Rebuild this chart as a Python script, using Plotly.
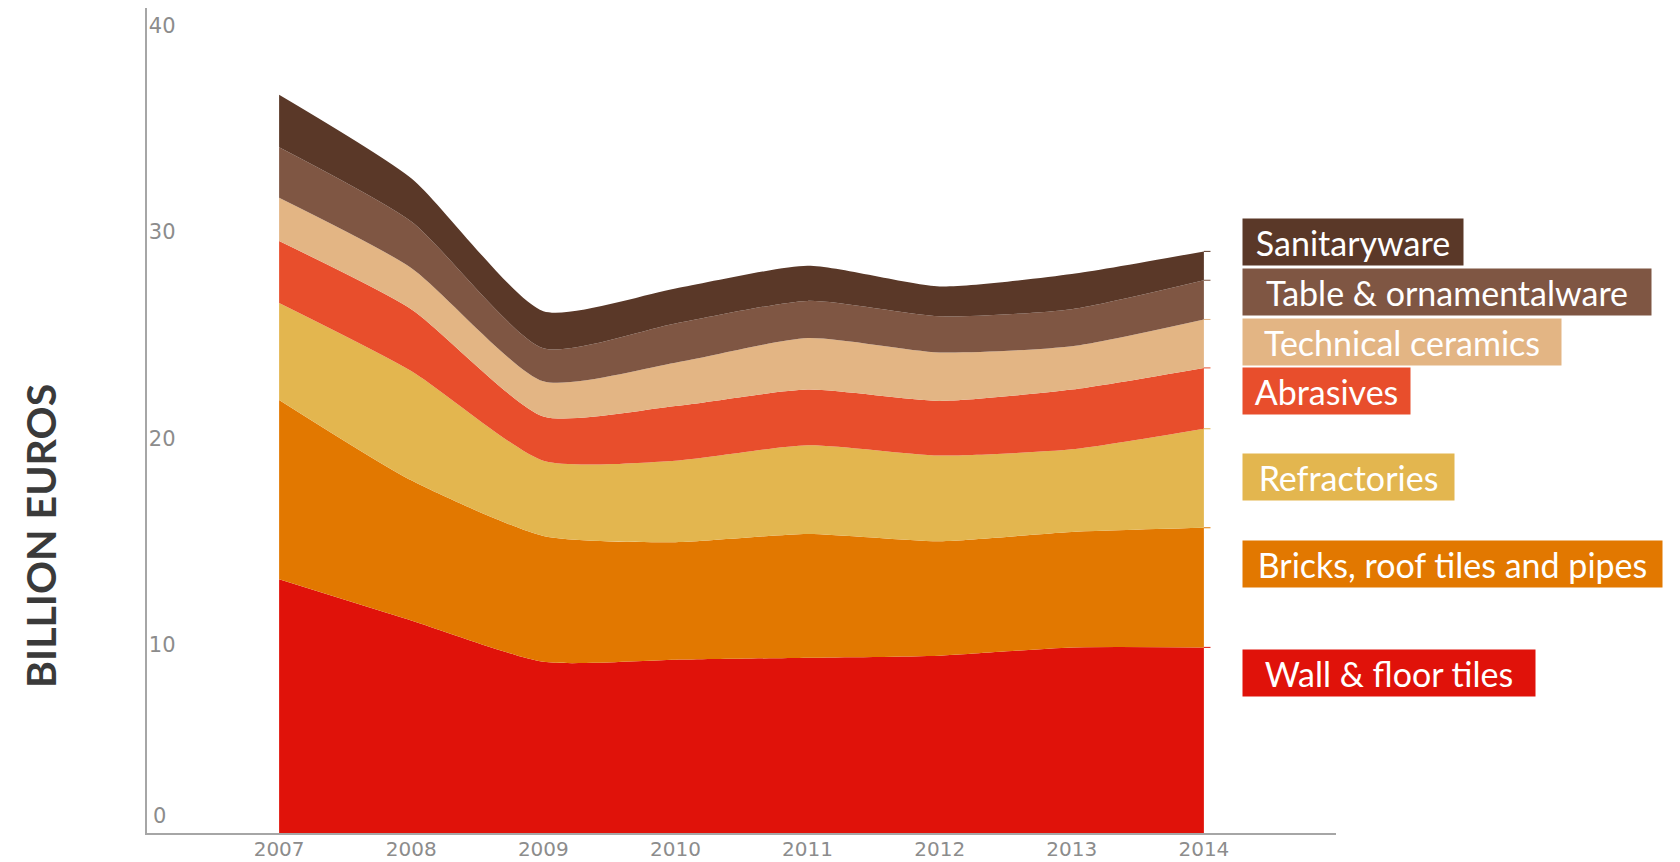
import numpy as np
import plotly.graph_objects as go

years = [2007, 2008, 2009, 2010, 2011, 2012, 2013, 2014]

# Layers from bottom to top (billion euros)
wall_floor = [12.3, 10.3, 8.3, 8.4, 8.5, 8.6, 9.0, 9.0]
bricks = [8.7, 6.8, 6.1, 5.7, 6.0, 5.55, 5.6, 5.8]
refractories = [4.7, 5.3, 3.65, 3.95, 4.3, 4.15, 4.0, 4.8]
abrasives = [3.0, 3.0, 2.15, 2.65, 2.7, 2.65, 2.9, 2.95]
technical = [2.1, 2.0, 1.7, 2.1, 2.5, 2.35, 2.1, 2.35]
table_orn = [2.45, 2.25, 1.6, 1.9, 1.8, 1.75, 1.8, 1.9]
sanitary = [2.55, 2.1, 1.8, 1.7, 1.7, 1.45, 1.7, 1.4]

names = ["Wall & floor tiles", "Bricks, roof tiles and pipes", "Refractories",
         "Abrasives", "Technical ceramics", "Table & ornamentalware", "Sanitaryware"]
series = [wall_floor, bricks, refractories, abrasives, technical, table_orn, sanitary]
colors = ["#E0120A", "#E27800", "#E3B64F", "#E84E2C", "#E3B584", "#7F5643", "#5A3828"]

y_ticks = [10, 20, 30, 40]

fig = go.Figure()
for name, vals, col in zip(names, series, colors):
    fig.add_trace(go.Scatter(
        x=years, y=vals, name=name, mode="lines", stackgroup="one",
        line=dict(width=0, shape="spline", smoothing=0.6, color=col),
        fillcolor=col, hoverinfo="x+y+name", showlegend=False,
    ))

# small leader ticks at the right edge of each layer boundary
cum = np.cumsum(np.array(series), axis=0)
for i, col in enumerate(colors):
    top = cum[i][-1]
    fig.add_trace(go.Scatter(
        x=[years[-1], years[-1] + 0.05], y=[top, top], mode="lines",
        line=dict(color=col, width=1), showlegend=False, hoverinfo="skip",
    ))

# Figure geometry (page has an 8px body margin)
OFF = 8
W, H = 1672, 854
ml, mr, mt, mb = 139, 344, 0, 29
pw, ph = W - ml - mr, H - mt - mb

def px2paper(xp, yp):
    return (xp - OFF - ml) / pw, (H - mb - (yp - OFF)) / ph

label_boxes = [
    # name, center y px (page), box width px
    ("Sanitaryware", 242, 220),
    ("Table & ornamentalware", 291.5, 408),
    ("Technical ceramics", 341.5, 318),
    ("Abrasives", 391, 167),
    ("Refractories", 476.5, 211),
    ("Bricks, roof tiles and pipes", 564, 419),
    ("Wall & floor tiles", 672.5, 292),
]
col_of = dict(zip(names, colors))
for name, cy, bw in label_boxes:
    xp, yp = px2paper(1242, cy)
    fig.add_annotation(
        x=xp, y=yp, xref="paper", yref="paper", xanchor="left", yanchor="middle",
        text=name, showarrow=False, bgcolor=col_of[name], borderpad=0,
        width=bw, height=46, align="center", valign="middle",
        font=dict(family="Lato", size=34, color="white"),
    )

# y-axis title
tx, ty = px2paper(40, 536)
fig.add_annotation(
    x=tx, y=ty, xref="paper", yref="paper", text="<b>BILLION EUROS</b>",
    textangle=-90, showarrow=False, xanchor="center", yanchor="middle",
    font=dict(family="Lato", size=41, color="#3a3a3a"),
)

# "0" label sitting above the axis line
fig.add_annotation(
    x=0, y=0, xref="paper", yref="y", text="0", showarrow=False,
    xanchor="left", yanchor="bottom", xshift=4, yshift=3,
    font=dict(family="DejaVu Sans", size=21, color="#8c8c8c"),
)

fig.update_layout(
    width=W, height=H,
    margin=dict(l=ml, r=mr, t=mt, b=mb, autoexpand=False),
    paper_bgcolor="white", plot_bgcolor="white",
    font=dict(family="DejaVu Sans", size=21, color="#8c8c8c"),
)
fig.update_xaxes(
    range=[2006, 2015], tickvals=years, ticks="", showgrid=False, zeroline=False,
    showline=True, linecolor="#a6a6a6", linewidth=2, ticklabelstandoff=-3,
    tickfont=dict(family="DejaVu Sans", size=20, color="#8c8c8c"),
    fixedrange=True,
)
fig.update_yaxes(
    range=[0, 40], tickvals=y_ticks, ticks="", showgrid=False, zeroline=False,
    showline=True, linecolor="#a6a6a6", linewidth=2,
    ticklabelposition="inside bottom", ticklabelshift=3, ticklabelstandoff=2,
    tickfont=dict(family="DejaVu Sans", size=21, color="#8c8c8c"),
    fixedrange=True,
)

fig.write_html("out.html")
